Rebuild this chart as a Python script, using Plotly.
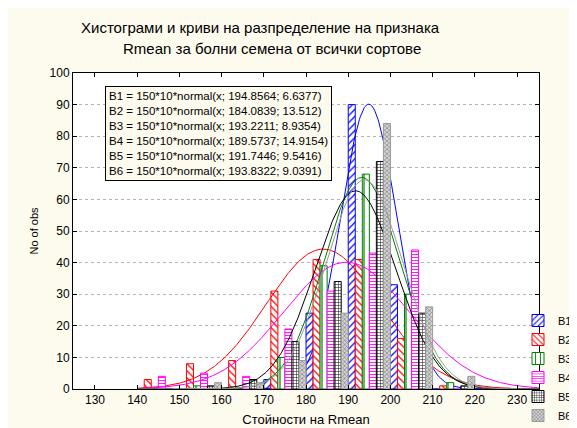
import numpy as np
import plotly.graph_objects as go

# ---------------- data ----------------
bin_starts = [140, 150, 160, 170, 180, 190, 200, 210, 220]
bin_width = 10
series_names = ["B1", "B2", "B3", "B4", "B5", "B6"]

B1 = [0, 0, 0, 3, 24, 90, 33, 0, 0]
B2 = [3, 8, 9, 31, 41, 41, 16, 1, 0]
B3 = [0, 1, 0, 10, 39, 68, 30, 2, 0]
B4 = [4, 5, 4, 19, 31, 43, 44, 0, 0]
B5 = [0, 1, 3, 15, 34, 72, 24, 1, 0]
B6 = [0, 2, 2, 9, 24, 84, 26, 4, 0]
counts = [B1, B2, B3, B4, B5, B6]

# fitted normal parameters as printed in the chart
fit_means = [194.8564, 184.0839, 193.2211, 189.5737, 191.7446, 193.8322]
fit_sds = [6.6377, 13.512, 8.9354, 14.9154, 9.5416, 9.0391]
n_obs = 150

x_ticks = [130, 140, 150, 160, 170, 180, 190, 200, 210, 220, 230]
y_ticks = [0, 10, 20, 30, 40, 50, 60, 70, 80, 90, 100]

title_line1 = "Хистограми и криви на разпределение на признака"
title_line2 = "Rmean за болни семена от всички сортове"
x_title = "Стойности на Rmean"
y_title = "No of obs"

# ---------------- style ----------------
W, H = 577, 428
ML, MR, MT, MB = 65, 46, 65, 47
PAPER = "#fdfaee"
FONT = "Liberation Sans, Arial, sans-serif"
XR = [124.79, 235.2]
YR = [0, 100]

colors = ["#0000ff", "#ff0000", "#008000", "#ff00ff", "#000000", "#9a9a9a"]
pat_shapes = ["/", "\\", "|", "-", "+", "x"]
pat_bg = ["white", "white", "white", "white", "white", "#d4d4d4"]
pat_fg = ["#0000ff", "#ff0000", "#008000", "#ff00ff", "#000000", "#8a8a8a"]
pat_size = [5, 5, 6, 3, 3, 3]
pat_sol = [0.25, 0.25, 0.2, 0.3, 0.3, 0.45]


def px_to_paper_x(px):
    return (px - ML) / (W - ML - MR)


def px_to_paper_y(py):
    return (H - MB - py) / (H - MT - MB)


fig = go.Figure()
xgrid = np.linspace(140, XR[1], 500)

for i, name in enumerate(series_names):
    xa = "x" if i == 0 else f"x{i+1}"
    ya = "y" if i == 0 else f"y{i+1}"
    sub_w = bin_width / len(series_names)
    fig.add_trace(go.Bar(
        x=bin_starts, y=counts[i], name=name,
        width=sub_w, offset=i * sub_w,
        xaxis=xa, yaxis=ya,
        marker=dict(
            color=pat_bg[i],
            line=dict(color=colors[i], width=1),
            pattern=dict(shape=pat_shapes[i], fgcolor=pat_fg[i], bgcolor=pat_bg[i],
                         size=pat_size[i], solidity=pat_sol[i], fillmode="replace"),
        ),
        showlegend=True,
    ))
    m, s = fit_means[i], fit_sds[i]
    ycurve = n_obs * bin_width * np.exp(-0.5 * ((xgrid - m) / s) ** 2) / (s * np.sqrt(2 * np.pi))
    fig.add_trace(go.Scatter(
        x=xgrid, y=ycurve, mode="lines", xaxis=xa, yaxis=ya,
        line=dict(color=colors[i], width=1), showlegend=False, hoverinfo="skip",
    ))

layout = dict(
    width=W, height=H,
    margin=dict(l=ML, r=MR, t=MT, b=MB, pad=0, autoexpand=False),
    paper_bgcolor=PAPER, plot_bgcolor="white",
    font=dict(family=FONT, size=12, color="black"),
    barmode="overlay",
    xaxis=dict(range=XR, tickvals=x_ticks, ticks="inside", ticklen=4, tickcolor="black",
               showline=True, linecolor="black", linewidth=1, mirror="ticks",
               showgrid=False, zeroline=False,
               title=dict(text=x_title, font=dict(size=13), standoff=8),
               tickfont=dict(size=12)),
    yaxis=dict(range=YR, tickvals=y_ticks, ticks="inside", ticklen=4, tickcolor="black",
               showline=True, linecolor="black", linewidth=1, mirror="ticks",
               showgrid=True, gridcolor="#b4b4b4", griddash="dot", gridwidth=1,
               zeroline=False,
               title=dict(text=y_title, font=dict(size=11), standoff=8),
               tickfont=dict(size=12)),
    legend=dict(x=px_to_paper_x(510), xanchor="left", y=px_to_paper_y(298), yanchor="top",
                bgcolor="rgba(0,0,0,0)", font=dict(size=11), traceorder="normal",
                itemwidth=30),
)
for i in range(2, 7):
    layout[f"xaxis{i}"] = dict(overlaying="x", matches="x", range=XR, visible=False)
    layout[f"yaxis{i}"] = dict(overlaying="y", matches="y", range=YR, visible=False)
fig.update_layout(**layout)

box_lines = [f"{n} = {n_obs}*{bin_width}*normal(x; {m}; {s})"
             for n, m, s in zip(series_names, fit_means, fit_sds)]
fig.add_annotation(
    x=132.4, y=95.8, xref="x", yref="y", xanchor="left", yanchor="top",
    text="<br>".join(box_lines), align="left", showarrow=False,
    font=dict(size=11.5, color="black", family=FONT),
    bgcolor=PAPER, bordercolor="black", borderwidth=1, borderpad=3,
)
fig.add_annotation(x=px_to_paper_x(252), y=px_to_paper_y(20), xref="paper", yref="paper",
                   text=title_line1, showarrow=False, font=dict(size=15),
                   xanchor="center", yanchor="middle")
fig.add_annotation(x=px_to_paper_x(264), y=px_to_paper_y(40), xref="paper", yref="paper",
                   text=title_line2, showarrow=False, font=dict(size=15),
                   xanchor="center", yanchor="middle")

fig.write_html("out.html")
